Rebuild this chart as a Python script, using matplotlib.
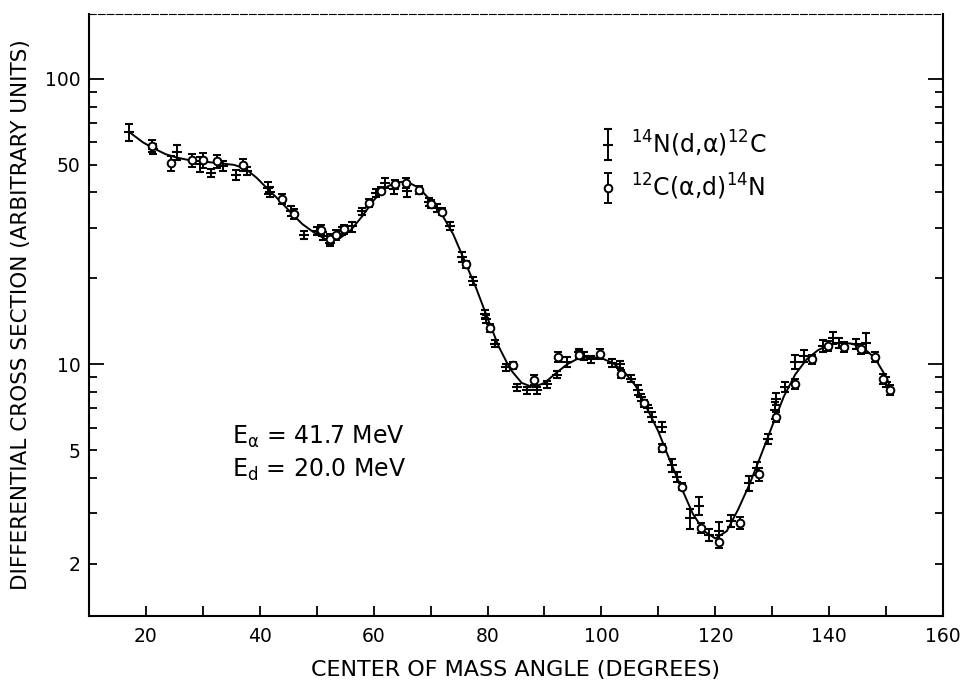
import numpy as np
import matplotlib
matplotlib.use("Agg")
import matplotlib.pyplot as plt
from matplotlib.ticker import MultipleLocator, LogLocator, FuncFormatter
from matplotlib.container import ErrorbarContainer
from matplotlib.legend_handler import HandlerErrorbar

plt.rcParams['font.family'] = ['DejaVu Sans']
plt.rcParams['mathtext.fontset'] = 'dejavusans'
plt.rcParams['mathtext.default'] = 'regular'

# 14N(d,alpha)12C  (crosses)
x_dalpha = [17.15, 21.3, 25.5, 29.5, 31.55, 33.66, 35.78, 37.79, 41.5, 41.8,
            45.5, 47.86, 50.08, 51.2, 52.4, 54.4, 56.3, 57.9, 60.35, 62.06,
            63.67, 65.9, 69.8, 71.2, 73.5, 75.55, 77.5, 79.5, 79.8, 81.4,
            83.3, 85.1, 86.9, 88.7, 90.4, 92.2, 94.0, 96.1, 96.9, 98.1,
            101.8, 103.3, 105.2, 106.5, 106.9, 108.1, 108.8, 110.6, 112.3, 113.2,
            115.5, 117.1, 118.9, 120.7, 122.7, 125.9, 127.3, 129.2, 130.4, 130.7,
            132.3, 134.0, 135.6, 138.8, 140.6, 141.7, 144.6, 146.4, 150.0]
y_dalpha = [65.0, 57.0, 55.5, 50.2, 46.9, 49.5, 46.1, 47.6, 41.6, 40.2,
            34.4, 28.4, 29.3, 28.2, 26.7, 29.3, 30.4, 34.4, 39.9, 43.3,
            41.0, 40.5, 37.1, 35.3, 30.5, 23.7, 19.6, 15.0, 14.4, 11.8,
            9.76, 8.3, 8.1, 8.1, 8.5, 9.2, 10.2, 11.0, 10.7, 10.4,
            10.1, 10.0, 8.9, 8.1, 7.66, 7.0, 6.53, 6.02, 4.42, 4.03,
            2.88, 3.19, 2.52, 2.60, 2.82, 3.82, 4.31, 5.48, 6.89, 7.56,
            8.3, 10.2, 10.7, 11.6, 12.4, 11.9, 11.8, 11.9, 8.65]
rel_dalpha = [0.07, 0.04, 0.06, 0.06, 0.03, 0.04, 0.04, 0.03, 0.05, 0.04,
              0.04, 0.03, 0.03, 0.03, 0.03, 0.03, 0.04, 0.03, 0.03, 0.04,
              0.04, 0.05, 0.03, 0.03, 0.03, 0.04, 0.03, 0.03, 0.03, 0.03,
              0.03, 0.03, 0.03, 0.03, 0.03, 0.03, 0.04, 0.03, 0.03, 0.03,
              0.03, 0.03, 0.03, 0.04, 0.03, 0.03, 0.04, 0.04, 0.05, 0.04,
              0.08, 0.07, 0.05, 0.08, 0.05, 0.06, 0.05, 0.04, 0.07, 0.05,
              0.04, 0.06, 0.05, 0.05, 0.05, 0.04, 0.04, 0.08, 0.04]

# 12C(alpha,d)14N  (open circles)
x_alphad = [21.1, 24.5, 28.1, 30.0, 32.55, 37.0, 43.9, 46.0, 50.7, 52.4,
            53.4, 54.9, 59.2, 61.35, 63.7, 65.75, 67.9, 70.1, 72.1, 76.2,
            80.5, 84.5, 88.2, 92.3, 96.1, 99.8, 103.5, 107.4, 110.7, 114.1,
            117.4, 120.7, 124.3, 127.7, 130.6, 133.9, 136.9, 139.7, 142.6, 145.5,
            148.0, 149.5, 150.7]
y_alphad = [58.2, 50.6, 51.8, 51.9, 51.4, 50.0, 38.0, 33.6, 29.5, 27.4,
            28.4, 29.7, 36.8, 40.6, 42.7, 43.3, 40.8, 36.5, 34.3, 22.4,
            13.4, 9.9, 8.8, 10.6, 10.8, 10.9, 9.25, 7.3, 5.09, 3.72,
            2.66, 2.39, 2.78, 4.11, 6.53, 8.5, 10.4, 11.6, 11.5, 11.3,
            10.6, 8.9, 8.15]
rel_alphad = [0.05, 0.06, 0.05, 0.06, 0.05, 0.05, 0.04, 0.04, 0.04, 0.04,
              0.04, 0.04, 0.03, 0.03, 0.04, 0.04, 0.03, 0.03, 0.03, 0.03,
              0.03, 0.03, 0.04, 0.04, 0.03, 0.04, 0.03, 0.03, 0.03, 0.03,
              0.04, 0.05, 0.05, 0.05, 0.04, 0.04, 0.04, 0.04, 0.04, 0.04,
              0.04, 0.04, 0.04]

# fitted curve
x_fit = [17.2, 19.5, 21.5, 23.5, 25.5, 27.5, 29.5, 31.5, 33.5, 35.5, 37.5, 39.5,
         41.5, 43.5, 45.5, 47.5, 49.5, 51.5, 52.7, 54, 56, 58, 60, 62, 64, 66,
         68, 70, 72, 74, 76, 78, 80, 82, 84, 86, 88, 90, 92, 94, 96, 98, 100,
         102, 104, 106, 108, 110, 112, 114, 116, 118, 120, 122, 124, 126, 128,
         130, 132, 134, 136, 138, 140, 142, 144, 146, 148, 150, 150.8]
y_fit = [65, 60, 57, 54.5, 53, 52, 51.5, 51, 50.5, 50, 48.5, 45,
         41, 37.5, 34, 31, 29, 27.5, 27.2, 27.6, 29.5, 33, 37.5, 41.5, 43.5, 43.5,
         41.5, 37.5, 33.5, 28.5, 23, 18.5, 14.5, 11.5, 9.6, 8.6, 8.3, 8.6, 9.3, 10.0, 10.5, 10.6, 10.5,
         10.1, 9.4, 8.4, 7.0, 5.8, 4.6, 3.7, 3.0, 2.6, 2.45, 2.6, 3.1, 3.8, 4.8,
         6.1, 7.7, 9.2, 10.4, 11.2, 11.7, 11.9, 11.8, 11.4, 10.5, 9.0, 8.2]

fig, ax = plt.subplots(figsize=(9.67, 6.85), dpi=100)
fig.subplots_adjust(left=0.0917, right=0.9755, bottom=0.1007, top=0.9796)

ax.plot(x_fit, y_fit, color='black', lw=1.4, zorder=2)

yd = np.array(y_dalpha)
h1 = ax.errorbar(x_dalpha, yd, yerr=yd * np.array(rel_dalpha), fmt='_', ms=7,
                 mew=1.5, color='black', ecolor='black', elinewidth=1.4,
                 capsize=3, capthick=1.4, zorder=3,
                 label=r'$^{14}$N(d,$\alpha$)$^{12}$C')
ya = np.array(y_alphad)
h2 = ax.errorbar(x_alphad, ya, yerr=ya * np.array(rel_alphad), fmt='o', ms=5.5,
                 mfc='white', mec='black', mew=1.4, color='black', ecolor='black',
                 elinewidth=1.4, capsize=3, capthick=1.4, zorder=4,
                 label=r'$^{12}$C($\alpha$,d)$^{14}$N')

ax.set_yscale('log')
ax.set_xlim(10, 160)
ax.set_ylim(1.31, 169)

ax.xaxis.set_major_locator(MultipleLocator(20))
ax.xaxis.set_minor_locator(MultipleLocator(10))
ax.yaxis.set_major_locator(LogLocator(base=10))
ax.yaxis.set_minor_locator(LogLocator(base=10, subs=np.arange(2, 10)))
ax.yaxis.set_major_formatter(FuncFormatter(lambda v, p: f"{v:g}"))
ax.yaxis.set_minor_formatter(FuncFormatter(
    lambda v, p: f"{v:g}" if round(v, 3) in (2, 5, 50) else ""))

ax.tick_params(axis='x', which='both', direction='in', top=False, length=7.5,
               width=1.3, labelsize=13.5, pad=8)
ax.tick_params(axis='y', which='both', direction='in', left=True, right=True,
               width=1.3, labelsize=13.5, pad=6)
ax.tick_params(axis='y', which='major', length=10.5)
ax.tick_params(axis='y', which='minor', length=5.5)

for s in ['left', 'right', 'bottom']:
    ax.spines[s].set_linewidth(1.5)
ax.spines['top'].set_linewidth(0.8)
ax.spines['top'].set_linestyle((0, (6, 2)))

ax.set_xlabel('CENTER OF MASS ANGLE (DEGREES)', fontsize=16, labelpad=10)
ax.set_ylabel('DIFFERENTIAL CROSS SECTION (ARBITRARY UNITS)', fontsize=15.5, labelpad=10)

ax.text(0.168, 0.297, r'E$_{\alpha}$ = 41.7 MeV', transform=ax.transAxes,
        fontsize=17, va='center', ha='left')
ax.text(0.168, 0.243, r'E$_{d}$ = 20.0 MeV', transform=ax.transAxes,
        fontsize=17, va='center', ha='left')

leg = ax.legend(handles=[h1, h2], loc='upper left', bbox_to_anchor=(0.59, 0.825),
                frameon=False, fontsize=17, handlelength=0.5, handletextpad=0.7,
                labelspacing=0.55, borderaxespad=0,
                handler_map={ErrorbarContainer: HandlerErrorbar(yerr_size=0.65)})

fig.savefig('out.png', dpi=100)
